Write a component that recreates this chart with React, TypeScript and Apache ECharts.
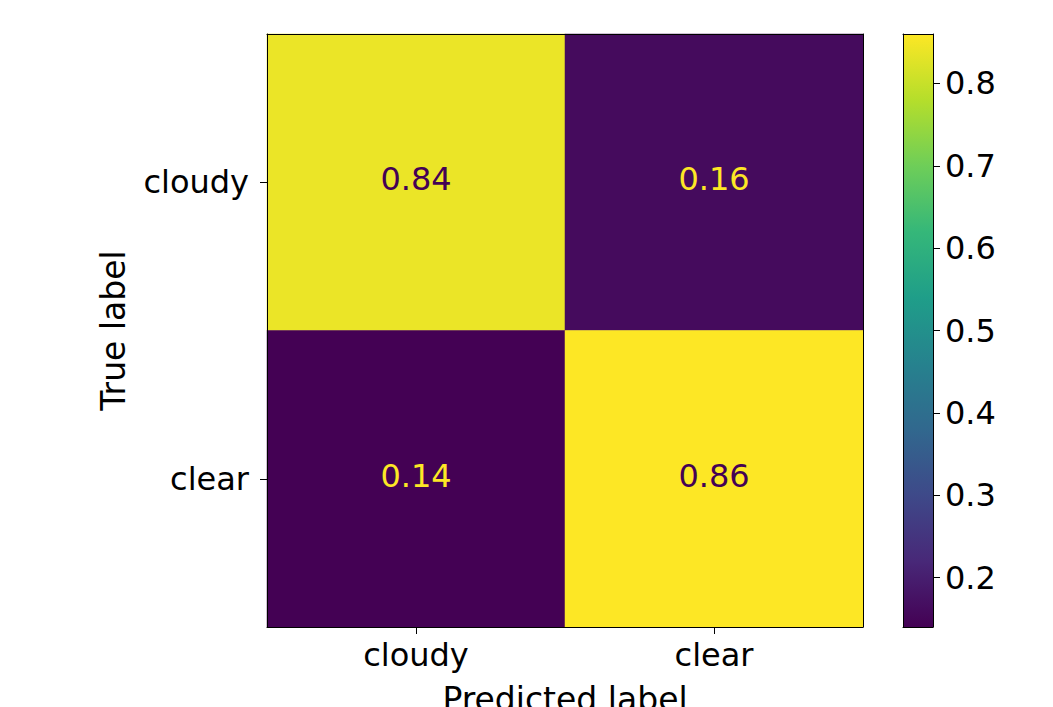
import React, { useEffect, useRef } from "react";
import * as echarts from "echarts";

const predictedLabels = ["cloudy", "clear"];
const trueLabels = ["cloudy", "clear"];
// rows = true label, cols = predicted label
const matrix: number[][] = [
  [0.84, 0.16],
  [0.14, 0.86],
];
const colorbarTicks = [0.2, 0.3, 0.4, 0.5, 0.6, 0.7, 0.8];
const vMin = 0.14;
const vMax = 0.86;

const viridis = ["#440154", "#482878", "#3e4989", "#31688e", "#26828e", "#1f9e89", "#35b779", "#6ece58", "#b5de2b", "#fde725"];

const FONT = "DejaVu Sans";
const FS = 32;
const NFS = 33;

export default function App() {
  const ref = useRef<HTMLDivElement>(null);
  useEffect(() => {
    if (!ref.current) return;
    const chart = echarts.init(ref.current, undefined, { renderer: "svg" });
    const mid = (vMin + vMax) / 2;
    const data: any[] = [];
    matrix.forEach((row, r) =>
      row.forEach((v, c) => {
        data.push({
          value: [c, r, v],
          label: { color: v > mid ? viridis[0] : viridis[viridis.length - 1] },
        });
      })
    );
    const gradStops = viridis
      .slice()
      .reverse()
      .map((c, i, arr) => ({ offset: i / (arr.length - 1), color: c }));
    const L = 267, T = 34, W = 596, H = 593;
    const CL = 903, CW = 30;
    chart.setOption({
      animation: false,
      textStyle: { fontFamily: FONT },
      grid: [
        { left: L, top: T, width: W, height: H, outerBoundsMode: "none", containLabel: false },
        { left: CL, top: T, width: CW, height: H, outerBoundsMode: "none", containLabel: false },
      ],
      xAxis: [
        {
          type: "category",
          data: predictedLabels,
          gridIndex: 0,
          position: "bottom",
          name: "Predicted label",
          nameLocation: "middle",
          nameGap: 56,
          nameTextStyle: { fontFamily: FONT, fontSize: NFS, color: "#000", verticalAlign: "top" },
          axisLine: { show: true, lineStyle: { color: "#000", width: 1 } },
          axisTick: { show: true, alignWithLabel: true, length: 7, lineStyle: { color: "#000" } },
          axisLabel: { fontFamily: FONT, fontSize: FS, color: "#000", margin: 12 },
          splitLine: { show: false },
          z: 10,
        },
        {
          type: "category",
          data: predictedLabels,
          gridIndex: 0,
          position: "top",
          axisLine: { show: true, lineStyle: { color: "#000", width: 1 } },
          axisTick: { show: false },
          axisLabel: { show: false },
          z: 10,
        },
        {
          type: "category",
          data: ["cb"],
          gridIndex: 1,
          axisLine: { show: true, onZero: false, lineStyle: { color: "#000", width: 1 } },
          axisTick: { show: false },
          axisLabel: { show: false },
          z: 10,
        },
        {
          type: "category",
          data: ["cb"],
          gridIndex: 1,
          position: "top",
          axisLine: { show: true, onZero: false, lineStyle: { color: "#000", width: 1 } },
          axisTick: { show: false },
          axisLabel: { show: false },
          z: 10,
        },
      ],
      yAxis: [
        {
          type: "category",
          data: trueLabels,
          inverse: true,
          gridIndex: 0,
          name: "True label",
          nameLocation: "middle",
          nameGap: 137,
          nameRotate: 90,
          nameTextStyle: { fontFamily: FONT, fontSize: NFS, color: "#000" },
          axisLine: { show: true, lineStyle: { color: "#000", width: 1 } },
          axisTick: { show: true, alignWithLabel: true, length: 7, lineStyle: { color: "#000" } },
          axisLabel: { fontFamily: FONT, fontSize: FS, color: "#000", margin: 18 },
          splitLine: { show: false },
          z: 10,
        },
        {
          type: "category",
          data: trueLabels,
          inverse: true,
          gridIndex: 0,
          position: "right",
          axisLine: { show: true, lineStyle: { color: "#000", width: 1 } },
          axisTick: { show: false },
          axisLabel: { show: false },
          z: 10,
        },
        {
          type: "value",
          gridIndex: 1,
          position: "right",
          min: vMin,
          max: vMax,
          axisLine: { show: true, onZero: false, lineStyle: { color: "#000", width: 1 } },
          axisTick: { show: true, length: 7, lineStyle: { color: "#000" }, customValues: colorbarTicks },
          axisLabel: {
            fontFamily: FONT,
            fontSize: FS,
            color: "#000",
            margin: 12,
            customValues: colorbarTicks,
            formatter: (v: number) => v.toFixed(1),
          },
          splitLine: { show: false },
          z: 10,
        },
        {
          type: "value",
          gridIndex: 1,
          position: "left",
          min: vMin,
          max: vMax,
          axisLine: { show: true, onZero: false, lineStyle: { color: "#000", width: 1 } },
          axisTick: { show: false },
          axisLabel: { show: false },
          splitLine: { show: false },
          z: 10,
        },
      ],
      visualMap: {
        show: false,
        seriesIndex: 0,
        min: vMin,
        max: vMax,
        dimension: 2,
        inRange: { color: viridis },
      },
      series: [
        {
          type: "heatmap",
          xAxisIndex: 0,
          yAxisIndex: 0,
          data,
          label: {
            show: true,
            fontFamily: FONT,
            fontSize: FS,
            offset: [0, -3],
            formatter: (p: any) => p.value[2].toFixed(2),
          },
          itemStyle: { borderWidth: 0 },
        },
        {
          type: "bar",
          xAxisIndex: 2,
          yAxisIndex: 2,
          data: [vMax],
          barWidth: "100%",
          itemStyle: {
            color: new echarts.graphic.LinearGradient(0, 0, 0, 1, gradStops),
          },
          silent: true,
        },
      ],
    });
    return () => chart.dispose();
  }, []);
  return <div ref={ref} style={{ width: 1053, height: 707, position: "absolute", left: 0, top: 0 }} />;
}
